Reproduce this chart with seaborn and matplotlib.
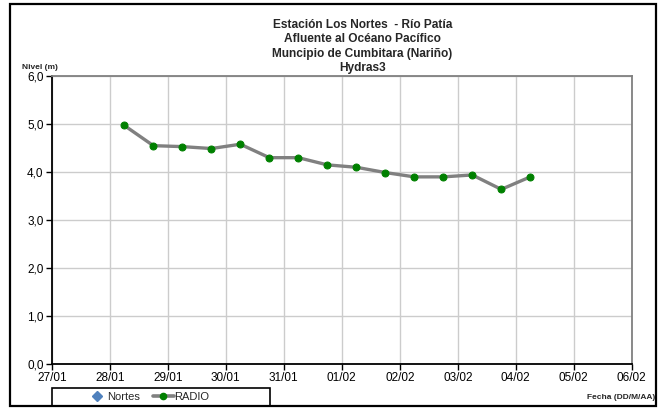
import pandas as pd
import numpy as np
import matplotlib
matplotlib.use('Agg')
import matplotlib.pyplot as plt
import matplotlib.dates as mdates
from matplotlib.lines import Line2D
from matplotlib.patches import Rectangle
import seaborn as sns

# lecturas cada 12 horas, estación Los Nortes (RADIO)
fechas = pd.date_range('2010-01-28 06:00', periods=15, freq='12h')
nivel_radio = [4.97, 4.55, 4.53, 4.49, 4.58, 4.30, 4.30, 4.15, 4.10, 3.99,
               3.90, 3.90, 3.94, 3.64, 3.90]
nivel_nortes = []  # sin datos

titulo = ['Estación Los Nortes  - Río Patía',
          'Afluente al Océano Pacífico',
          'Muncipio de Cumbitara (Nariño)',
          'Hydras3']

df = pd.DataFrame({'fecha': fechas, 'nivel': nivel_radio})

sns.set_style('white')
plt.rcParams['font.family'] = ['Liberation Sans', 'DejaVu Sans']

fig = plt.figure(figsize=(6.65, 4.11), dpi=100)
ax = fig.add_axes([0.078, 0.114, 0.872, 0.701])

sns.lineplot(data=df, x='fecha', y='nivel', ax=ax, color='#808080',
             linewidth=2.4, marker='o', markersize=5,
             markerfacecolor='#008000', markeredgecolor='#008000', zorder=3)

ax.set_xlim(pd.Timestamp('2010-01-27'), pd.Timestamp('2010-02-06'))
ax.set_ylim(0, 6)
ax.set_yticks(np.arange(0, 6.1, 1))
ax.set_yticklabels([f'{v:.1f}'.replace('.', ',') for v in np.arange(0, 6.1, 1)])
ax.xaxis.set_major_locator(mdates.DayLocator())
ax.xaxis.set_major_formatter(mdates.DateFormatter('%d/%m'))

ax.grid(True, color='#cccccc', linewidth=1.0)
ax.set_axisbelow(True)
ax.set_xlabel('')
ax.set_ylabel('')
ax.tick_params(axis='both', labelsize=8.5, direction='out', length=4,
               width=1, colors='black', pad=2, left=True, bottom=True)
for s in ['left', 'bottom']:
    ax.spines[s].set_color('black')
    ax.spines[s].set_linewidth(1.3)
for s in ['top', 'right']:
    ax.spines[s].set_color('#808080')
    ax.spines[s].set_linewidth(1.3)

# título
for i, t in enumerate(titulo):
    fig.text(0.545, 0.939 - i * 0.035, t, ha='center', va='center',
             fontsize=8.6, fontweight='bold')

fig.text(0.033, 0.835, 'Nivel (m)', fontsize=6, fontweight='bold',
         va='center')
fig.text(0.985, 0.032, 'Fecha (DD/M/AA)', fontsize=6, fontweight='bold',
         ha='right', va='center')

# leyenda: caja fija como en Excel, contenido sin marco encima
handles = [Line2D([], [], color='none', marker='D', markersize=5,
                  markerfacecolor='#4f81bd', markeredgecolor='#4f81bd'),
           Line2D([], [], color='#808080', linewidth=2.6, marker='o',
                  markersize=4.5, markerfacecolor='#008000',
                  markeredgecolor='#008000')]
fig.legend(handles, ['Nortes', 'RADIO'], loc='center',
           bbox_to_anchor=(0.222, 0.034), ncol=2, fontsize=8,
           frameon=False, handlelength=1.9, columnspacing=1.1,
           handletextpad=0.0, borderpad=0.35, borderaxespad=0)
fig.patches.append(Rectangle((0.078, 0.011), 0.328, 0.045,
                             transform=fig.transFigure, fill=False,
                             edgecolor='black', linewidth=1.2))

# marco exterior
fig.patches.append(Rectangle((0.015, 0.012), 0.972, 0.978,
                             transform=fig.transFigure, fill=False,
                             edgecolor='black', linewidth=1.6))

fig.savefig('out.png', dpi=100)
